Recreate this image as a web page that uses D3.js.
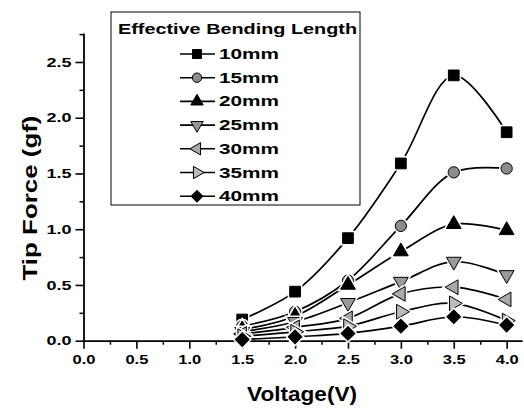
<!DOCTYPE html>
<html><head><meta charset="utf-8">
<script src="https://cdn.jsdelivr.net/npm/d3@7"></script>
<style>
html,body{margin:0;padding:0;background:#fff;}
text{font-family:"Liberation Sans",Arial,sans-serif;font-weight:bold;fill:#000;}
</style></head>
<body>
<svg id="c" width="524" height="408"></svg>
<script>
const voltage = [1.5, 2.0, 2.5, 3.0, 3.5, 4.0];
const seriesNames = ["10mm", "15mm", "20mm", "25mm", "30mm", "35mm", "40mm"];
const f10 = [0.19, 0.44, 0.92, 1.59, 2.38, 1.87];
const f15 = [0.13, 0.26, 0.54, 1.03, 1.51, 1.545];
const f20 = [0.10, 0.22, 0.50, 0.80, 1.045, 0.99];
const f25 = [0.08, 0.17, 0.34, 0.53, 0.71, 0.59];
const f30 = [0.06, 0.12, 0.20, 0.42, 0.48, 0.37];
const f35 = [0.04, 0.08, 0.13, 0.26, 0.335, 0.18];
const f40 = [0.01, 0.035, 0.065, 0.13, 0.215, 0.14];
const xTicks = [0.0, 0.5, 1.0, 1.5, 2.0, 2.5, 3.0, 3.5, 4.0];
const yTicks = [0.0, 0.5, 1.0, 1.5, 2.0, 2.5];
const legendTitle = "Effective Bending Length";
const xTitle = "Voltage(V)";
const yTitle = "Tip Force (gf)";

const allSeries = [f10, f15, f20, f25, f30, f35, f40];
const styles = [
  {type: d3.symbolSquare, size: 115, rot: 0, fill: "#000"},
  {type: d3.symbolCircle, size: 100, rot: 0, fill: "#8c8c8c"},
  {type: d3.symbolTriangle, size: 95, rot: 0, fill: "#000"},
  {type: d3.symbolTriangle, size: 95, rot: 180, fill: "#999"},
  {type: d3.symbolTriangle, size: 95, rot: -90, fill: "#aaa"},
  {type: d3.symbolTriangle, size: 95, rot: 90, fill: "#bbb"},
  {type: d3.symbolSquare, size: 95, rot: 45, fill: "#000"}
];

const svg = d3.select("#c");
const x = d3.scaleLinear().domain([0, 4.145]).range([83.5, 522]);
const y = d3.scaleLinear().domain([0, 2.76]).range([340.7, 33]);
const fmt = d3.format(".1f");

// minor ticks
const xMinor = d3.range(0.25, 4.01, 0.5);
const yMinor = d3.range(0.25, 2.76, 0.5);
svg.append("g").attr("transform", `translate(0,${y(0)})`)
  .call(d3.axisBottom(x).tickValues(xMinor).tickSize(4).tickSizeOuter(0).tickFormat(""))
  .call(g => g.select(".domain").remove())
  .call(g => g.selectAll("line").attr("stroke-width", 1.5));
svg.append("g").attr("transform", `translate(${x(0)},0)`)
  .call(d3.axisLeft(y).tickValues(yMinor).tickSize(4).tickSizeOuter(0).tickFormat(""))
  .call(g => g.select(".domain").remove())
  .call(g => g.selectAll("line").attr("stroke-width", 1.5));

// major axes
const gx = svg.append("g").attr("transform", `translate(0,${y(0)})`)
  .call(d3.axisBottom(x).tickValues(xTicks).tickSize(8).tickSizeOuter(0).tickFormat(fmt).tickPadding(6));
gx.select(".domain").attr("stroke-width", 1.8);
gx.selectAll("line").attr("stroke-width", 1.6);
gx.selectAll("text").attr("font-size", 13).attr("fill", "#000")
  .attr("textLength", 23).attr("lengthAdjust", "spacingAndGlyphs");

const gy = svg.append("g").attr("transform", `translate(${x(0)},0)`)
  .call(d3.axisLeft(y).tickValues(yTicks).tickSize(8).tickSizeOuter(0).tickFormat(fmt).tickPadding(4));
gy.select(".domain").attr("stroke-width", 1.8);
gy.selectAll("line").attr("stroke-width", 1.6);
gy.selectAll("text").attr("font-size", 13).attr("fill", "#000")
  .attr("textLength", 25).attr("lengthAdjust", "spacingAndGlyphs");

// axis titles
svg.append("text").attr("x", 302).attr("y", 401).attr("text-anchor", "middle")
  .attr("font-size", 20).attr("textLength", 110).attr("lengthAdjust", "spacingAndGlyphs").text(xTitle);
svg.append("text").attr("transform", "translate(37,198) rotate(-90)").attr("text-anchor", "middle")
  .attr("font-size", 20).attr("textLength", 165).attr("lengthAdjust", "spacingAndGlyphs").text(yTitle);

// lines
const line = d3.line().x(d => x(d[0])).y(d => y(d[1])).curve(d3.curveCatmullRom.alpha(0.5));
allSeries.forEach((s, i) => {
  const pts = voltage.map((v, j) => [v, s[j]]);
  svg.append("path").datum(pts).attr("d", line).attr("fill", "none")
    .attr("stroke", "#000").attr("stroke-width", 1.7);
});

function sym(st, k) { return d3.symbol().type(st.type).size(st.size * (k || 1))(); }
// markers
allSeries.forEach((s, i) => {
  const st = styles[i];
  const g = svg.append("g");
  voltage.forEach((v, j) => {
    g.append("path").attr("d", sym(st))
      .attr("transform", `translate(${x(v)},${y(s[j])}) rotate(${st.rot})`)
      .attr("fill", "none").attr("stroke", "#fff").attr("stroke-width", 4);
  });
  voltage.forEach((v, j) => {
    g.append("path").attr("d", sym(st))
      .attr("transform", `translate(${x(v)},${y(s[j])}) rotate(${st.rot})`)
      .attr("fill", st.fill).attr("stroke", "#000").attr("stroke-width", 1);
  });
});

// legend
const lg = svg.append("g");
lg.append("rect").attr("x", 111).attr("y", 12).attr("width", 249).attr("height", 193)
  .attr("fill", "#fff").attr("stroke", "#000").attr("stroke-width", 1);
lg.append("text").attr("x", 118).attr("y", 34).attr("font-size", 15)
  .attr("textLength", 239).attr("lengthAdjust", "spacingAndGlyphs").text(legendTitle);
seriesNames.forEach((name, i) => {
  const cy = 54 + i * 23.7;
  const st = styles[i];
  lg.append("line").attr("x1", 180).attr("x2", 215).attr("y1", cy).attr("y2", cy)
    .attr("stroke", "#000").attr("stroke-width", 1.6);
  lg.append("path").attr("d", sym(st, 0.7)).attr("transform", `translate(197,${cy}) rotate(${st.rot})`)
    .attr("fill", st.fill).attr("stroke", "#000").attr("stroke-width", 1);
  lg.append("text").attr("x", 219).attr("y", cy + 5).attr("font-size", 14)
    .attr("textLength", 60).attr("lengthAdjust", "spacingAndGlyphs").text(name);
});
</script>
</body></html>
